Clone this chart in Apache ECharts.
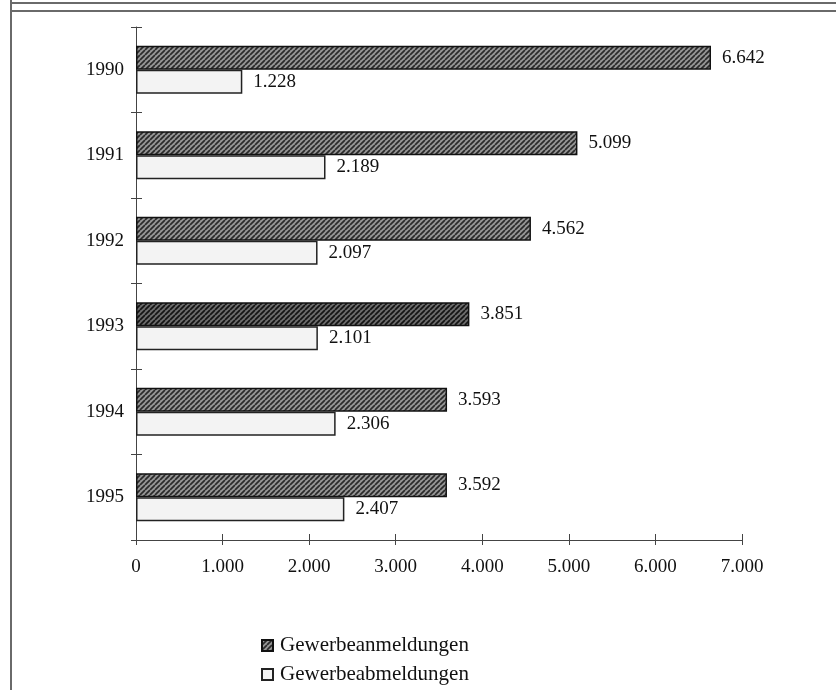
<!DOCTYPE html>
<html>
<head>
<meta charset="utf-8">
<script src="https://cdn.jsdelivr.net/npm/echarts@6/dist/echarts.min.js"></script>
<style>
  html, body { margin: 0; padding: 0; background: #fff; }
  #chart { width: 836px; height: 690px; }
</style>
</head>
<body>
<div id="chart"></div>
<script>
// Gewerbean- und -abmeldungen 1990–1995
const years = ['1990', '1991', '1992', '1993', '1994', '1995'];
const anmeldungen = [6642, 5099, 4562, 3851, 3593, 3592];
const abmeldungen = [1228, 2189, 2097, 2101, 2306, 2407];
const seriesNames = ['Gewerbeanmeldungen', 'Gewerbeabmeldungen'];
const xTicks = [0, 1000, 2000, 3000, 4000, 5000, 6000, 7000];

const FONT = '"Liberation Serif", "Times New Roman", serif';

// German number format: 6642 -> "6.642"
function fmt(v) {
  return String(Math.round(v)).replace(/\B(?=(\d{3})+(?!\d))/g, '.');
}

// Diagonal hatch fill for the registration bars
function hatch(bg, line) {
  const c = document.createElement('canvas');
  c.width = 5; c.height = 5;
  const g = c.getContext('2d');
  g.fillStyle = bg;
  g.fillRect(0, 0, 5, 5);
  g.strokeStyle = line;
  g.lineWidth = 1.7;
  g.beginPath();
  for (let k = -5; k <= 10; k += 5) {
    g.moveTo(k, 5);
    g.lineTo(k + 5, 0);
  }
  g.stroke();
  return { image: c, repeat: 'repeat' };
}

const hatchFill = hatch('#959595', '#2a2a2a');
const hatchDark = hatch('#6c6c6c', '#141414');

const chart = echarts.init(document.getElementById('chart'), null, { renderer: 'canvas' });

const labelStyle = {
  show: true,
  position: 'right',
  distance: 11,
  color: '#111',
  fontFamily: FONT,
  fontSize: 19,
  formatter: p => fmt(p.value)
};

chart.setOption({
  animation: false,
  backgroundColor: '#ffffff',
  textStyle: { fontFamily: FONT },
  grid: { left: 136, right: 94, top: 27, bottom: 150 },
  xAxis: [
    {
      type: 'value', min: 0, max: 7000, interval: 1000, position: 'bottom',
      axisLine: { show: true, lineStyle: { color: '#444', width: 1 } },
      axisTick: { show: true, length: 5, lineStyle: { color: '#444' } },
      axisLabel: {
        color: '#111', fontFamily: FONT, fontSize: 19, margin: 18,
        formatter: v => xTicks.includes(v) ? fmt(v) : ''
      },
      splitLine: { show: false }
    },
    {
      type: 'value', min: 0, max: 7000, interval: 1000, position: 'bottom',
      axisLine: { show: false },
      axisTick: { show: true, inside: true, length: 6, lineStyle: { color: '#444' } },
      axisLabel: { show: false },
      splitLine: { show: false }
    }
  ],
  yAxis: [
    {
      type: 'category', data: years, inverse: true,
      axisLine: { show: true, lineStyle: { color: '#444', width: 1 } },
      axisTick: { show: true, length: 5, lineStyle: { color: '#444' } },
      axisLabel: { color: '#111', fontFamily: FONT, fontSize: 19, margin: 12 }
    },
    {
      type: 'category', data: years, inverse: true, position: 'left',
      axisLine: { show: false },
      axisTick: { show: true, inside: true, length: 6, lineStyle: { color: '#444' } },
      axisLabel: { show: false }
    }
  ],
  legend: {
    orient: 'vertical',
    left: 256,
    top: 630,
    itemWidth: 11,
    itemHeight: 11,
    itemGap: 8,
    icon: 'rect',
    textStyle: { color: '#111', fontFamily: FONT, fontSize: 21, padding: [0, 0, 0, 2] },
    data: seriesNames
  },
  series: [
    {
      name: seriesNames[0],
      type: 'bar',
      barWidth: 24,
      barGap: '0%',
      data: anmeldungen.map((v, i) => i === 3
        ? { value: v, itemStyle: { color: hatchDark } }
        : v),
      itemStyle: { color: hatchFill, borderColor: '#111', borderWidth: 1.5 },
      label: labelStyle
    },
    {
      name: seriesNames[1],
      type: 'bar',
      barWidth: 24,
      barGap: '0%',
      data: abmeldungen,
      itemStyle: { color: '#f3f3f3', borderColor: '#222', borderWidth: 1.5 },
      label: labelStyle
    }
  ],
  graphic: [
    // frame lines
    { type: 'line', shape: { x1: 11, y1: 0, x2: 11, y2: 690 }, style: { stroke: '#6a6a6a', lineWidth: 2 } },
    { type: 'line', shape: { x1: 11, y1: 3, x2: 836, y2: 3 }, style: { stroke: '#6a6a6a', lineWidth: 2 } },
    { type: 'line', shape: { x1: 11, y1: 11, x2: 836, y2: 11 }, style: { stroke: '#6a6a6a', lineWidth: 2 } }
  ]
});
</script>
</body>
</html>
